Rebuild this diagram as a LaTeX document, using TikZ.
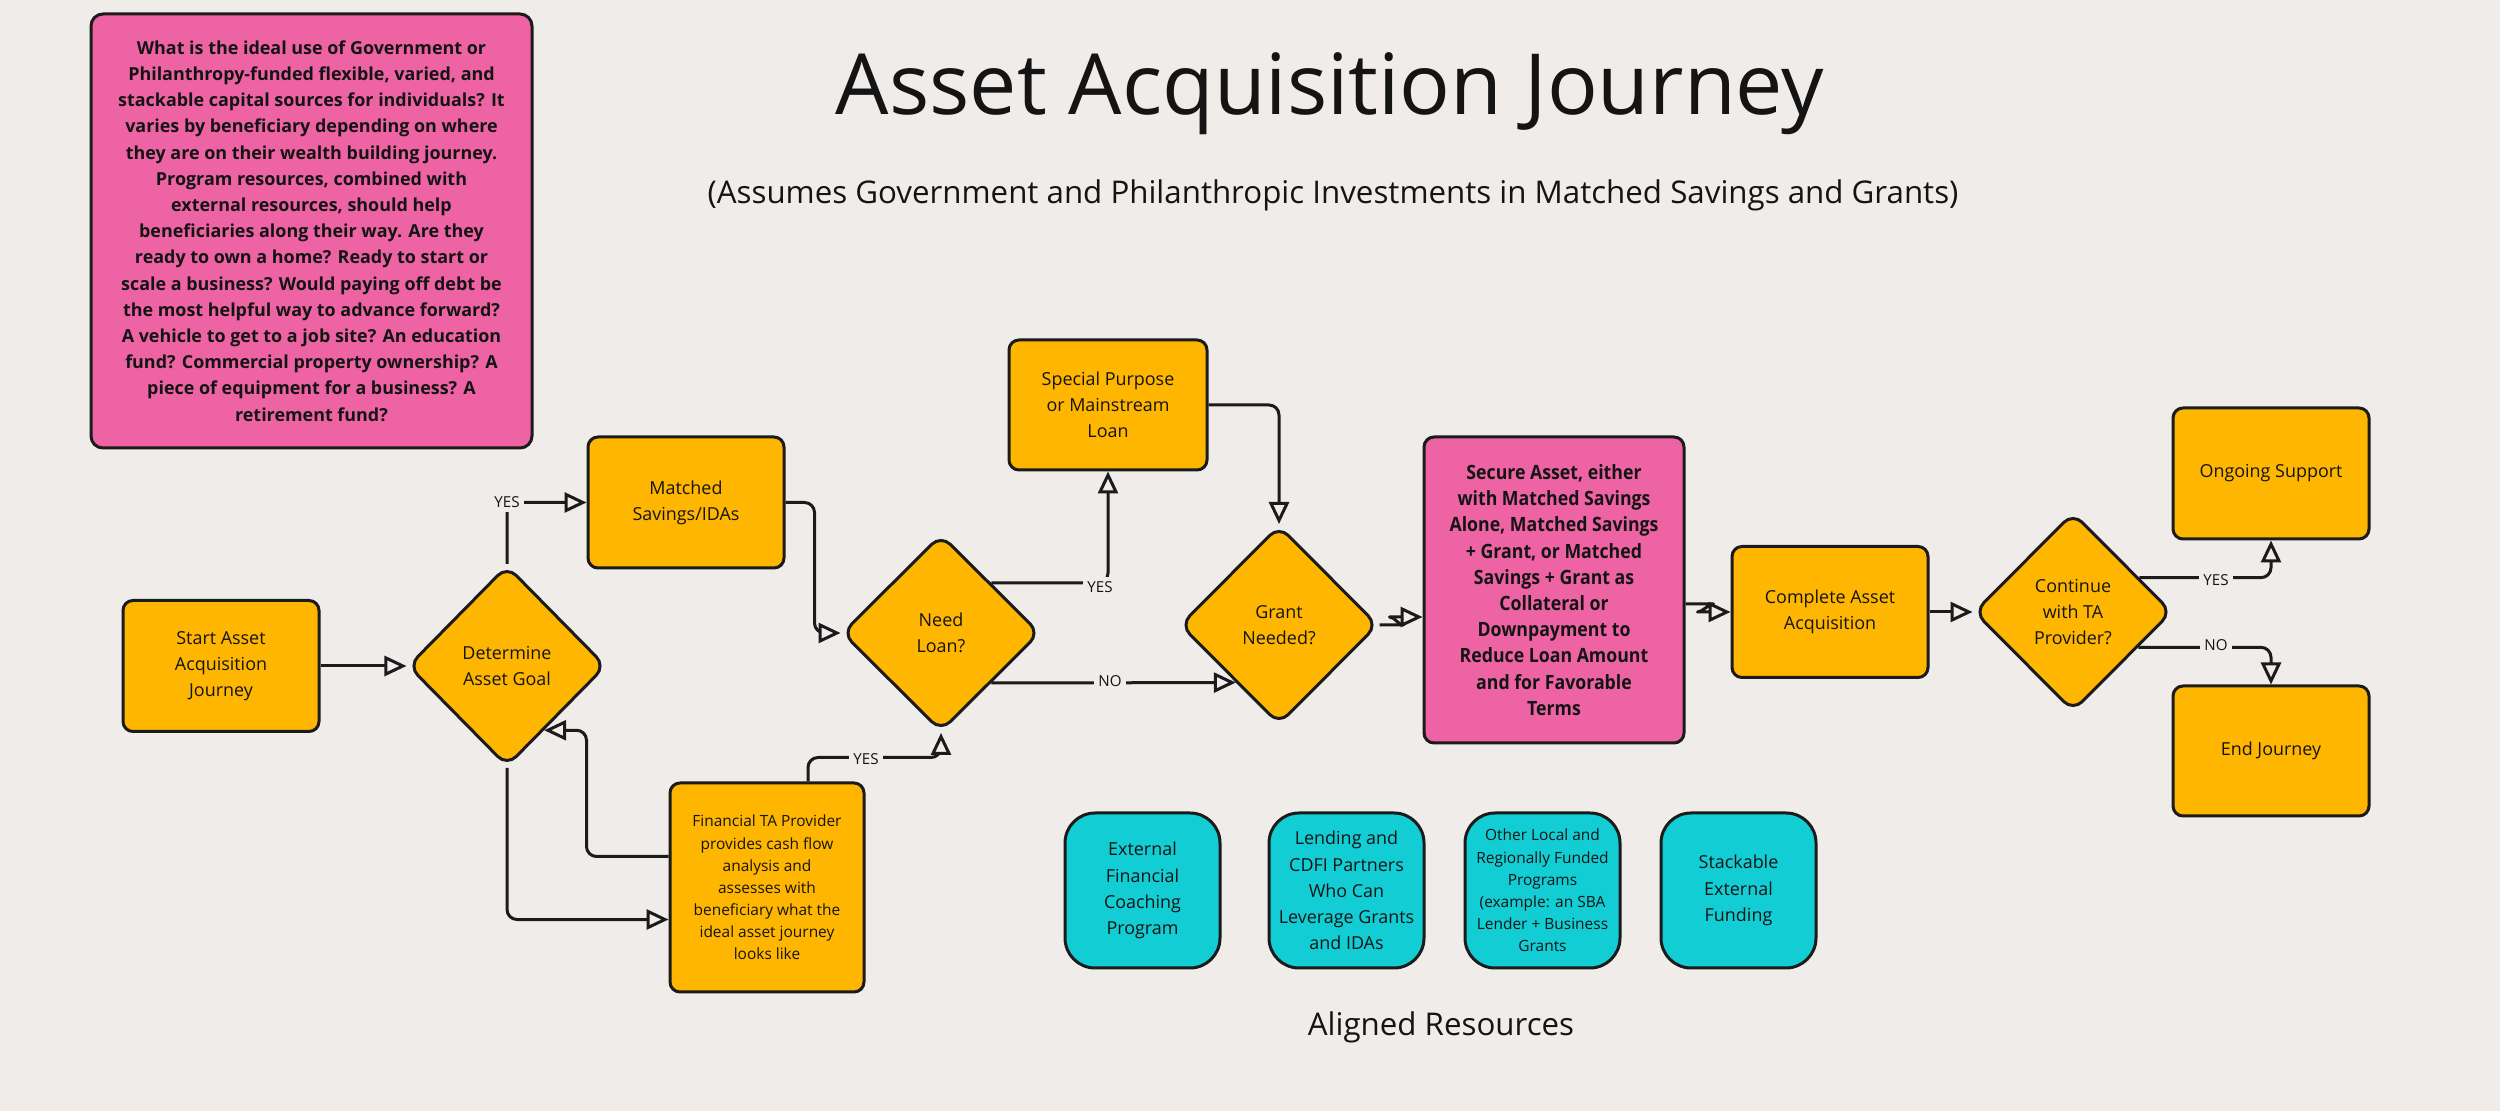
\documentclass[tikz,border=0pt]{standalone}
\usepackage{fontspec}
\setmainfont{Open Sans}
\newfontfamily\condfont[FakeStretch=0.9]{Open Sans}
\usetikzlibrary{shapes.geometric,arrows.meta,calc}
\definecolor{bgc}{HTML}{EFECEA}
\definecolor{orc}{HTML}{FEB600}
\definecolor{pkc}{HTML}{EE63A3}
\definecolor{cyc}{HTML}{13CDD4}
\definecolor{lc}{HTML}{1B1B1B}
\definecolor{tc}{HTML}{141414}
\newcommand\FSmain{\fontsize{5.1pt}{7.45pt}\selectfont}
\newcommand\FSsmall{\fontsize{4.4pt}{6.3pt}\selectfont}
\newcommand\FSq{\fontsize{5.1pt}{7.45pt}\selectfont\bfseries}
\newcommand\FSsec{\condfont\bfseries\fontsize{5.6pt}{7.45pt}\selectfont}
\newcommand\FStitle{\fontsize{24pt}{28pt}\selectfont}
\newcommand\FSsub{\fontsize{8.9pt}{10.5pt}\selectfont}
\newcommand\FSlbl{\fontsize{4.3pt}{5pt}\selectfont}
\tikzset{
  base/.style={draw=lc, line width=0.3mm, align=center, inner sep=0pt, text=tc},
  obox/.style={base, rectangle, rounded corners=1mm, fill=orc, minimum width=19.6mm, minimum height=13.1mm, font=\FSmain},
  odia/.style={base, diamond, rounded corners=1.3mm, fill=orc, minimum width=19.8mm, minimum height=19.9mm, font=\FSmain},
  cbox/.style={base, rectangle, rounded corners=3mm, fill=cyc, minimum width=15.5mm, minimum height=15.5mm, font=\FSmain},
  conn/.style={draw=lc, line width=0.3mm, rounded corners=1mm, line join=round, -{Triangle[fill=bgc, length=2.2mm, width=2mm]}},
  lbl/.style={fill=bgc, inner sep=0.4mm, font=\FSlbl, text=tc},
  ttl/.style={text=tc, inner sep=0pt, anchor=base},
}
\begin{document}
\begin{tikzpicture}[x=0.1mm,y=-0.1mm]
\fill[bgc] (0,0) rectangle (2500,1111);
\useasboundingbox (0,0) rectangle (2500,1111);

% question box
\node[base, rectangle, rounded corners=1.2mm, fill=pkc, minimum width=44.1mm, minimum height=43.4mm, font=\FSq] (q) at (311.5,231)
{What is the ideal use of Government or\\
Philanthropy-funded flexible, varied, and\\
stackable capital sources for individuals? It\\
varies by beneficiary depending on where\\
they are on their wealth building journey.\\
Program resources, combined with\\
external resources, should help\\
beneficiaries along their way. Are they\\
ready to own a home? Ready to start or\\
scale a business? Would paying off debt be\\
the most helpful way to advance forward?\\
A vehicle to get to a job site? An education\\
fund? Commercial property ownership? A\\
piece of equipment for a business? A\\
retirement fund?};

% titles
\node[ttl, font=\FStitle] (title) at (1330,115) {Asset Acquisition Journey};
\node[ttl, font=\FSsub] (sub) at (1333,204) {(Assumes Government and Philanthropic Investments in Matched Savings and Grants)};
\node[ttl, font=\FSsub] (aligned) at (1441,1035) {Aligned Resources};

% flow nodes
\node[obox] (start) at (221,666) {Start Asset\\Acquisition\\Journey};
\node[odia, minimum height=20.1mm] (det) at (507,666) {Determine\\Asset Goal};
\node[obox] (ms) at (686,502.5) {Matched\\Savings/IDAs};
\node[odia, minimum height=19.7mm] (loan) at (941,633) {Need\\Loan?};
\node[obox, minimum width=19.8mm, minimum height=13mm] (sp) at (1108,405) {Special Purpose\\or Mainstream\\Loan};
\node[odia] (grant) at (1279,625) {Grant\\Needed?};
\node[base, rectangle, rounded corners=1mm, fill=pkc, minimum width=26mm, minimum height=30.6mm, font=\FSsec] (secure) at (1554,590)
{Secure Asset, either\\with Matched Savings\\Alone, Matched Savings\\+ Grant, or Matched\\Savings + Grant as\\Collateral or\\Downpayment to\\Reduce Loan Amount\\and for Favorable\\Terms};
\node[obox] (complete) at (1830,612) {Complete Asset\\Acquisition};
\node[odia] (cont) at (2073,612) {Continue\\with TA\\Provider?};
\node[obox] (ongoing) at (2271,473.5) {Ongoing Support};
\node[obox, minimum height=13mm] (endj) at (2271,751) {End Journey};
\node[obox, minimum width=19.4mm, minimum height=20.9mm, font=\FSsmall] (fin) at (767,887.5)
{Financial TA Provider\\provides cash flow\\analysis and\\assesses with\\beneficiary what the\\ideal asset journey\\looks like};

% aligned resources
\node[cbox] (c1) at (1142.5,890.5) {External\\Financial\\Coaching\\Program};
\node[cbox] (c2) at (1346.5,890.5) {Lending and\\CDFI Partners\\Who Can\\Leverage Grants\\and IDAs};
\node[cbox, font=\FSsmall] (c3) at (1542.5,890.5) {Other Local and\\Regionally Funded\\Programs\\(example: an SBA\\Lender + Business\\Grants};
\node[cbox] (c4) at (1738.5,890.5) {Stackable\\External\\Funding};

% helper coordinates
\coordinate (gn) at ($(grant.west)!0.57!(grant.south)$);
\coordinate (sw) at ($(secure.west)+(0,27)$);
\coordinate (sw0) at ($(sw)+(-23,0)$);
\coordinate (ge) at ($(grant.east)+(14,0)$);
\coordinate (cw) at (complete.west);
\coordinate (cw0) at ($(cw)+(-23,0)$);
\coordinate (se) at ($(secure.east)+(0,14)$);
\coordinate (se1) at ($(se)+(18,0)$);
\coordinate (cy) at ($(cont.east)!0.34!(cont.north)$);
\coordinate (cn) at ($(cont.east)!0.35!(cont.south)$);
\coordinate (dl) at ($(det.east)!0.63!(det.south)$);

% connectors
\draw[conn] (start) -- (det);
\draw[conn] (det.north) |- (ms.west);
\draw[conn] (ms.east) -- ++(29,0) |- (loan.west);
\draw[conn] (loan.north east) -| (sp.south);
\draw[conn] (loan.south east) -- (gn);
\draw[conn] (sp.east) -| (grant.north);
\draw[conn] (grant.east) -- (ge) .. controls ($(ge)+(5,0)$) and ($(sw0)+(-5,0)$) .. (sw0) -- (sw);
\draw[conn] (se) -- (se1) .. controls ($(se1)+(5,0)$) and ($(cw0)+(-5,0)$) .. (cw0) -- (cw);
\draw[conn] (complete) -- (cont);
\draw[conn] (cy) -| (ongoing.south);
\draw[conn] (cn) -| (endj.north);
\draw[conn] (det.south) |- ($(fin.west)+(0,32)$);
\draw[conn] ($(fin.west)+(0,-31)$) -- ++(-82,0) |- (dl);
\draw[conn] ($(fin.north)+(41,0)$) -- ++(0,-24) -| (loan.south);

% labels
\node[lbl] (l1) at (det.north |- ms.west) {YES};
\node[lbl] (l2) at (1100,587) {YES};
\node[lbl] (l3) at (1110,681) {NO};
\node[lbl] (l4) at (866,759) {YES};
\node[lbl] (l5) at (2216,580) {YES};
\node[lbl] (l6) at (2216,645) {NO};
\end{tikzpicture}
\end{document}
